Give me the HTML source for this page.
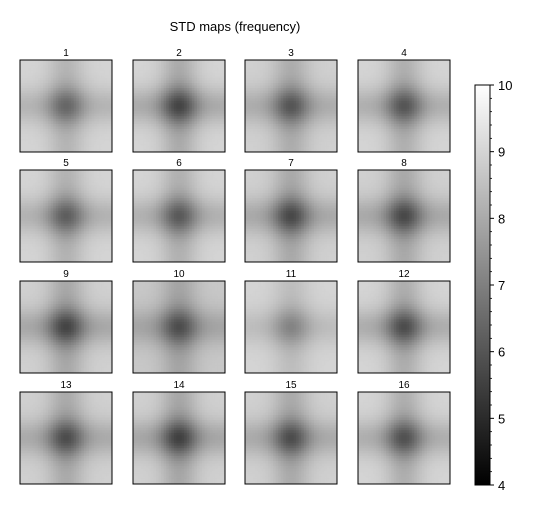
<!DOCTYPE html>
<html><head><meta charset="utf-8"><style>
body{margin:0;background:#fff;font-family:"Liberation Sans","DejaVu Sans",sans-serif}
svg{display:block}
</style></head><body>
<svg id="chart" width="537" height="513" viewBox="0 0 537 513">
<defs><linearGradient id="cbg" x1="0" y1="1" x2="0" y2="0"><stop offset="0" stop-color="#000"/><stop offset="1" stop-color="#fff"/></linearGradient></defs>
<text x="235" y="31" text-anchor="middle" font-size="13" fill="#000">STD maps (frequency)</text>
<g id="panels"></g>
<g id="cbar"></g>
</svg>
<script>
const panelLabels=["1","2","3","4","5","6","7","8","9","10","11","12","13","14","15","16"];
const centerValues=[6.4,5.6,6.0,6.0,6.2,6.1,5.7,5.7,5.6,5.8,7.1,5.8,5.8,5.5,5.8,5.9];
const edgeValues=[9.0,9.0,8.9,9.0,9.0,9.0,8.9,8.9,8.9,8.7,9.0,9.0,8.9,8.9,8.9,9.0];
const cbTicks=[4,5,6,7,8,9,10];
const vmin=4,vmax=10;
const NS="http://www.w3.org/2000/svg";
const pg=document.getElementById('panels');
const colX=[20,133,245,358],rowY=[60,170,281,392],PW=92,PH=92,N=36;
function gray(v){const t=Math.max(0,Math.min(1,(v-vmin)/(vmax-vmin)));const c=Math.round(t*255);return `rgb(${c},${c},${c})`;}
function mk(tag,attrs,parent){const e=document.createElementNS(NS,tag);for(const k in attrs)e.setAttribute(k,attrs[k]);parent.appendChild(e);return e;}
panelLabels.forEach((lab,i)=>{
  const x0=colX[i%4],y0=rowY[Math.floor(i/4)];
  const g=mk('g',{},pg);
  
  
  const d=edgeValues[i]-centerValues[i];
  const cw=PW/N,ch=PH/N;
  for(let r=0;r<N;r++){for(let c=0;c<N;c++){
    const u=((c+0.5)/N-0.5)/0.2,w=((r+0.5)/N-0.5)/0.2;
    const gx=Math.exp(-u*u),gy=Math.exp(-w*w);
    const v=edgeValues[i]-d*(0.28*(gx+gy)+0.44*gx*gy);
    const rc=mk('rect',{x:x0+c*cw,y:y0+r*ch,width:cw+0.5,height:ch+0.5,fill:gray(v)},g);
    
    
  }}
  const b=mk('rect',{x:x0,y:y0,width:PW,height:PH,fill:'none',stroke:'#000','stroke-width':1},g);
  
  
  const t=mk('text',{x:x0+PW/2,y:y0-4,'text-anchor':'middle','font-size':10,fill:'#000'},g);
  t.textContent=lab;
  
  
});
const cb=document.getElementById('cbar');
const cbx=475,cby0=85,cby1=485,cbw=15;
function yScale(v){return cby1-(v-vmin)/(vmax-vmin)*(cby1-cby0);}
const cr=mk('rect',{x:cbx,y:cby0,width:cbw,height:cby1-cby0,fill:'url(#cbg)',stroke:'#000','stroke-width':1},cb);


for(let v=vmin;v<=vmax+1e-9;v+=0.2){
  const y=yScale(v);const major=Math.abs(v-Math.round(v))<1e-6;
  mk('line',{x1:cbx+cbw,x2:cbx+cbw+(major?4:2),y1:y,y2:y,stroke:'#000','stroke-width':major?1:0.8},cb);
}
cbTicks.forEach(v=>{
  const t=mk('text',{x:cbx+cbw+8,y:yScale(v)+5,'font-size':13,fill:'#000'},cb);
  t.textContent=v;
  
  
});
</script>
</body></html>
